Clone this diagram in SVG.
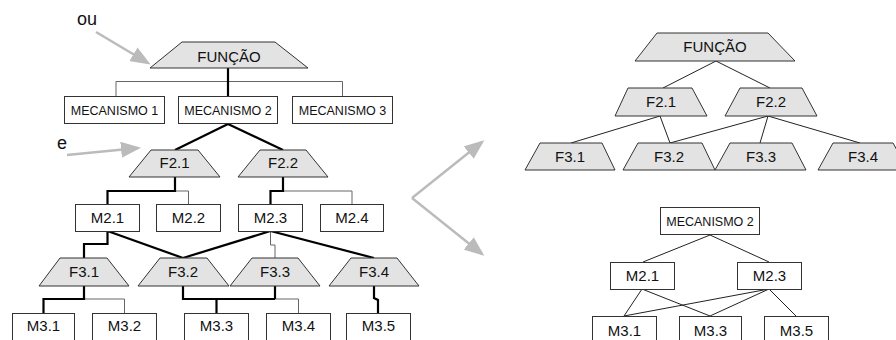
<svg xmlns="http://www.w3.org/2000/svg" width="896" height="340" viewBox="0 0 896 340">
  <style>
    .trap { fill: #e3e3e3; stroke: #333; stroke-width: 1; }
    .box { fill: #fff; stroke: #333; stroke-width: 1; }
    .lbl { font-family: "Liberation Sans", Arial, sans-serif; font-size: 15px; fill: #111; text-anchor: middle; }
    .small { font-size: 12.5px; }
    .note { font-family: "Liberation Sans", Arial, sans-serif; font-size: 18px; fill: #111; }
    .thick { stroke: #000; stroke-width: 2.2; fill: none; }
    .thin { stroke: #666; stroke-width: 1; fill: none; }
    .link { stroke: #222; stroke-width: 1; fill: none; }
    .hint { stroke: #bbb; stroke-width: 2.5; fill: none; marker-end: url(#ah); }
  </style>
  <defs>
    <marker id="ah" viewBox="0 0 20 16" markerWidth="20" markerHeight="16" refX="17" refY="8" orient="auto" markerUnits="userSpaceOnUse">
      <path d="M0,0 L20,8 L0,16 z" fill="#bbb"/>
    </marker>
  </defs>
  <rect width="896" height="340" fill="#fff"/>

  <!-- left tree: connectors -->
  <g id="connectors-left">
    <polyline class="thin" points="116,97 116,81.5 342.5,81.5 342.5,97"/>
    <line class="thick" x1="228" y1="68" x2="228" y2="97"/>
    <line class="thick" x1="228" y1="124" x2="175" y2="150"/>
    <line class="thick" x1="228" y1="124" x2="283" y2="150"/>
    <polyline class="thin" points="175,191 188.5,191 188.5,204"/>
    <polyline class="thick" points="175,177 175,191 107.5,191 107.5,204"/>
    <polyline class="thin" points="283,191 352,191 352,204"/>
    <polyline class="thick" points="283,177 283,191 270.5,191 270.5,204"/>
    <polyline class="thin" points="270.5,231 270.5,245 275,245 275,258"/>
    <polyline class="thick" points="107.5,231 107.5,244 84,244 84,258"/>
    <line class="thick" x1="107.5" y1="231" x2="183" y2="258"/>
    <line class="thick" x1="270.5" y1="231" x2="183" y2="258"/>
    <line class="thick" x1="270.5" y1="231" x2="374" y2="258"/>
    <polyline class="thin" points="84,299 124.5,299 124.5,313"/>
    <polyline class="thick" points="84,286 84,299 43.5,299 43.5,313"/>
    <polyline class="thin" points="275,299 298.5,299 298.5,313"/>
    <polyline class="thick" points="183,286 183,299 275,299"/>
    <line class="thick" x1="275" y1="286" x2="275" y2="299"/>
    <line class="thick" x1="216.5" y1="299" x2="216.5" y2="313"/>
    <polyline class="thick" points="374,286 374,298 378,300 378,313"/>
  </g>

  <!-- left tree: nodes -->
  <g id="l-funcao"><polygon class="trap" points="182,42 275,42 308,68 150,68"/><text class="lbl" x="229" y="62">FUNÇÃO</text></g>
  <g id="l-mec1"><rect class="box" x="64.5" y="96.5" width="100" height="27"/><text class="lbl small" x="114.5" y="115">MECANISMO 1</text></g>
  <g id="l-mec2"><rect class="box" x="178.5" y="96.5" width="99" height="27"/><text class="lbl small" x="228" y="115">MECANISMO 2</text></g>
  <g id="l-mec3"><rect class="box" x="292.5" y="96.5" width="100" height="27"/><text class="lbl small" x="342.5" y="115">MECANISMO 3</text></g>
  <g id="l-f21"><polygon class="trap" points="151,150 198,150 220,177 129,177"/><text class="lbl" x="174.5" y="167.5">F2.1</text></g>
  <g id="l-f22"><polygon class="trap" points="260,150 306,150 328,177 238,177"/><text class="lbl" x="283" y="167.5">F2.2</text></g>
  <g id="l-m21"><rect class="box" x="75.5" y="204.5" width="64" height="27"/><text class="lbl" x="107.5" y="223">M2.1</text></g>
  <g id="l-m22"><rect class="box" x="156.5" y="204.5" width="64" height="27"/><text class="lbl" x="188.5" y="223">M2.2</text></g>
  <g id="l-m23"><rect class="box" x="238.5" y="204.5" width="64" height="27"/><text class="lbl" x="270.5" y="223">M2.3</text></g>
  <g id="l-m24"><rect class="box" x="320.5" y="204.5" width="63" height="27"/><text class="lbl" x="352" y="223">M2.4</text></g>
  <g id="l-f31"><polygon class="trap" points="60,258 107,258 129,286 39,286"/><text class="lbl" x="84" y="277">F3.1</text></g>
  <g id="l-f32"><polygon class="trap" points="160,258 207,258 229,286 138,286"/><text class="lbl" x="183" y="277">F3.2</text></g>
  <g id="l-f33"><polygon class="trap" points="252,258 298,258 320,286 230,286"/><text class="lbl" x="275" y="277">F3.3</text></g>
  <g id="l-f34"><polygon class="trap" points="351,258 397,258 419,286 329,286"/><text class="lbl" x="374" y="277">F3.4</text></g>
  <g id="l-m31"><rect class="box" x="12.5" y="313.5" width="62" height="28"/><text class="lbl" x="43.5" y="331">M3.1</text></g>
  <g id="l-m32"><rect class="box" x="92.5" y="313.5" width="64" height="28"/><text class="lbl" x="124.5" y="331">M3.2</text></g>
  <g id="l-m33"><rect class="box" x="184.5" y="313.5" width="64" height="28"/><text class="lbl" x="216.5" y="331">M3.3</text></g>
  <g id="l-m34"><rect class="box" x="266.5" y="313.5" width="64" height="28"/><text class="lbl" x="298.5" y="331">M3.4</text></g>
  <g id="l-m35"><rect class="box" x="346.5" y="313.5" width="64" height="28"/><text class="lbl" x="378.5" y="331">M3.5</text></g>

  <!-- gray pointers -->
  <g id="pointers">
    <text class="note" x="77" y="25">ou</text>
    <line class="hint" x1="96" y1="32" x2="148" y2="63"/>
    <text class="note" x="57" y="149">e</text>
    <line class="hint" x1="67" y1="155" x2="138" y2="148"/>
    <line class="hint" x1="412" y1="198" x2="482" y2="142"/>
    <line class="hint" x1="412" y1="198" x2="482" y2="254"/>
  </g>

  <!-- function tree (right): connectors -->
  <g id="connectors-functions">
    <line class="link" x1="716" y1="61" x2="663" y2="88"/>
    <line class="link" x1="716" y1="61" x2="770" y2="88"/>
    <line class="link" x1="660" y1="116" x2="571" y2="143"/>
    <line class="link" x1="660" y1="116" x2="670" y2="143"/>
    <line class="link" x1="768" y1="116" x2="670" y2="143"/>
    <line class="link" x1="768" y1="116" x2="760" y2="143"/>
    <line class="link" x1="768" y1="116" x2="860" y2="143"/>
  </g>
  <g id="r-funcao"><polygon class="trap" points="657,33 768,33 795,61 635,61"/><text class="lbl" x="715" y="52">FUNÇÃO</text></g>
  <g id="r-f21"><polygon class="trap" points="628,88 692,88 707,116 615,116"/><text class="lbl" x="661" y="107">F2.1</text></g>
  <g id="r-f22"><polygon class="trap" points="740,88 802,88 817,116 725,116"/><text class="lbl" x="771" y="107">F2.2</text></g>
  <g id="r-f31"><polygon class="trap" points="540,143 602,143 615,170 525,170"/><text class="lbl" x="570" y="162">F3.1</text></g>
  <g id="r-f32"><polygon class="trap" points="638,143 702,143 715,170 623,170"/><text class="lbl" x="669" y="162">F3.2</text></g>
  <g id="r-f33"><polygon class="trap" points="730,143 792,143 806,170 715,170"/><text class="lbl" x="761" y="162">F3.3</text></g>
  <g id="r-f34"><polygon class="trap" points="833,143 893,143 908,170 818,170"/><text class="lbl" x="863" y="162">F3.4</text></g>

  <!-- mechanism tree (right): connectors -->
  <g id="connectors-mechanisms">
    <line class="link" x1="710" y1="235" x2="643" y2="262"/>
    <line class="link" x1="710" y1="235" x2="769" y2="262"/>
    <line class="link" x1="642" y1="289" x2="624" y2="316"/>
    <line class="link" x1="642" y1="289" x2="710" y2="316"/>
    <line class="link" x1="769" y1="289" x2="624" y2="316"/>
    <line class="link" x1="769" y1="289" x2="710" y2="316"/>
    <line class="link" x1="769" y1="289" x2="796" y2="316"/>
  </g>
  <g id="r-mec2"><rect class="box" x="660.5" y="207.5" width="99" height="27"/><text class="lbl small" x="710" y="225.5">MECANISMO 2</text></g>
  <g id="r-m21"><rect class="box" x="610.5" y="262.5" width="64" height="27"/><text class="lbl" x="642.5" y="281">M2.1</text></g>
  <g id="r-m23"><rect class="box" x="737.5" y="262.5" width="64" height="27"/><text class="lbl" x="769.5" y="281">M2.3</text></g>
  <g id="r-m31"><rect class="box" x="592.5" y="316.5" width="64" height="28"/><text class="lbl" x="624.5" y="335.5">M3.1</text></g>
  <g id="r-m33"><rect class="box" x="679.5" y="316.5" width="62" height="28"/><text class="lbl" x="710.5" y="335.5">M3.3</text></g>
  <g id="r-m35"><rect class="box" x="764.5" y="316.5" width="64" height="28"/><text class="lbl" x="796.5" y="335.5">M3.5</text></g>
</svg>
